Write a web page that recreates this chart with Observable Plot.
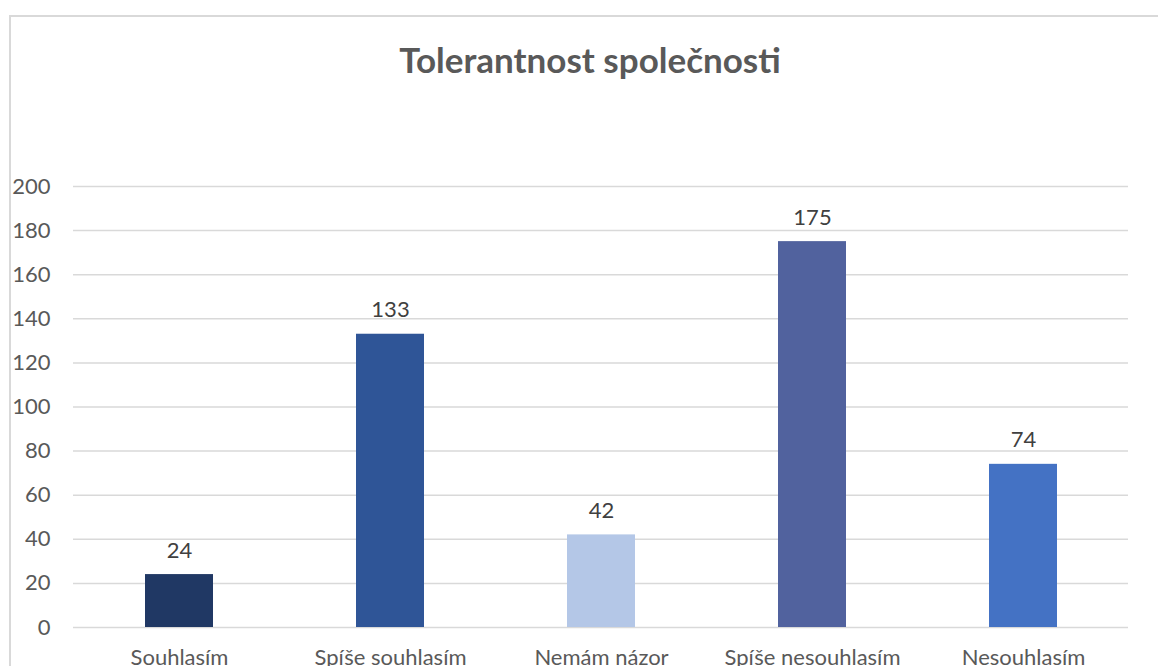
<!DOCTYPE html>
<html>
<head>
<meta charset="utf-8">
<script src="https://cdn.jsdelivr.net/npm/d3@7"></script>
<script src="https://cdn.jsdelivr.net/npm/@observablehq/plot@0.6"></script>
<style>
  html, body { margin: 0; padding: 0; background: #fff; overflow: hidden; width: 1158px; height: 666px; }
  #wrap { position: relative; width: 1158px; height: 666px; overflow: hidden; }
  #frame { position: absolute; left: 9px; top: 15px; width: 1300px; height: 800px; border-left: 2px solid #D9D9D9; border-top: 2px solid #D9D9D9; box-sizing: border-box; }
  #title { position: absolute; left: 0; width: 1180px; top: 38px; text-align: center; font-family: Lato, sans-serif; font-weight: bold; font-size: 35px; color: #595959; }
  #chart { position: absolute; left: 0; top: 0; }
</style>
</head>
<body>
<div id="wrap">
  <div id="frame"></div>
  <div id="title">Tolerantnost společnosti</div>
  <div id="chart"></div>
</div>
<script>
const categories = ["Souhlasím", "Spíše souhlasím", "Nemám názor", "Spíše nesouhlasím", "Nesouhlasím"];
const values = [24, 133, 42, 175, 74];
const colors = ["#203864", "#2F5597", "#B4C7E7", "#51629E", "#4472C4"];
const yTicks = [0, 20, 40, 60, 80, 100, 120, 140, 160, 180, 200];

const data = categories.map((c, i) => ({category: c, value: values[i], color: colors[i]}));

const plot = Plot.plot({
  width: 1158,
  height: 666,
  marginLeft: 73,
  marginRight: 30,
  marginTop: 186,
  marginBottom: 39,
  style: {fontFamily: "Lato, sans-serif", fontSize: "22px", color: "#595959", background: "transparent", overflow: "visible"},
  x: {domain: categories, paddingInner: 0.68, paddingOuter: 0.34, label: null, tickSize: 0, tickPadding: 22},
  y: {domain: [0, 200], ticks: yTicks, label: null, tickSize: 0, tickPadding: 23},
  marks: [
    Plot.gridY(yTicks, {stroke: "#D9D9D9", strokeOpacity: 1, strokeWidth: 1.5}),
    Plot.barY(data, {x: "category", y: "value", fill: "color"}),
    Plot.text(data, {x: "category", y: "value", text: d => String(d.value), lineAnchor: "bottom", dy: -17, fill: "#404040", fontSize: 22})
  ]
});
document.getElementById("chart").appendChild(plot);
</script>
</body>
</html>
